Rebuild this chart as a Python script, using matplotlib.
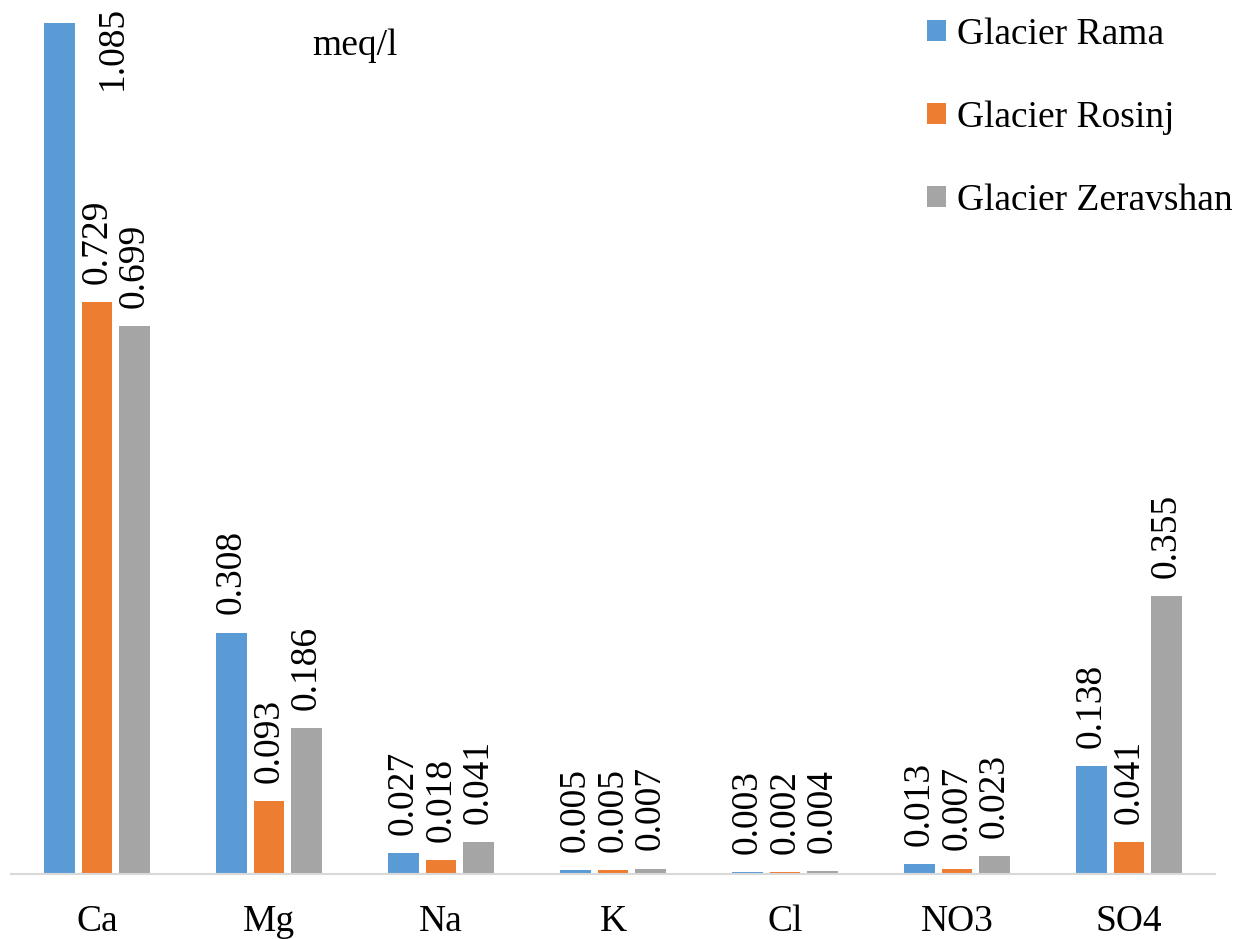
import matplotlib
matplotlib.use("Agg")
import matplotlib.pyplot as plt
import numpy as np

categories = ["Ca", "Mg", "Na", "K", "Cl", "NO3", "SO4"]
series_names = ["Glacier Rama", "Glacier Rosinj", "Glacier Zeravshan"]
rama = [1.085, 0.308, 0.027, 0.005, 0.003, 0.013, 0.138]
rosinj = [0.729, 0.093, 0.018, 0.005, 0.002, 0.007, 0.041]
zeravshan = [0.699, 0.186, 0.041, 0.007, 0.004, 0.023, 0.355]
colors = ["#5B9BD5", "#ED7D31", "#A5A5A5"]

plt.rcParams['font.family'] = ['Liberation Serif', 'DejaVu Serif']

fig = plt.figure(figsize=(12.33, 9.39), dpi=100)
ax = fig.add_axes([11/1233, 1 - 874/939, (1215 - 11)/1233, 874/939])

x = np.arange(len(categories))
width = 0.18
step = 0.22
fs = 27
for i, (vals, name, c) in enumerate(zip([rama, rosinj, zeravshan], series_names, colors)):
    pos = x + (i - 1) * step
    ax.bar(pos, vals, width=width, color=c, label=name, zorder=2)
    for p, v in zip(pos, vals):
        if v > 1.0:
            ax.text(p + 0.31, 1.054, f"{v:.3f}", rotation=90, ha='center', va='center', fontsize=fs)
        else:
            ax.annotate(f"{v:.3f}", (p, v), xytext=(0, 13), textcoords='offset points',
                        rotation=90, ha='center', va='bottom', fontsize=fs)

ax.set_xlim(-0.5, len(categories) - 0.5)
ax.set_ylim(0, 874/784)
ax.set_xticks(x)
ax.set_xticklabels(categories, fontsize=fs)
ax.tick_params(axis='x', length=0, pad=22)
ax.set_yticks([])
for s in ['top', 'right', 'left']:
    ax.spines[s].set_visible(False)
ax.spines['bottom'].set_color('#D9D9D9')
ax.spines['bottom'].set_linewidth(1.5)

fig.text(355/1233, 1 - 46/939, "meq/l", ha='center', va='center', fontsize=fs)

leg = fig.legend(loc='upper left', bbox_to_anchor=(912/1233, 1 - 2/939), frameon=False,
                 fontsize=fs, handlelength=0.5, handleheight=0.5, handletextpad=0.3,
                 labelspacing=1.3, borderaxespad=0)

fig.savefig("out.png", dpi=100)
